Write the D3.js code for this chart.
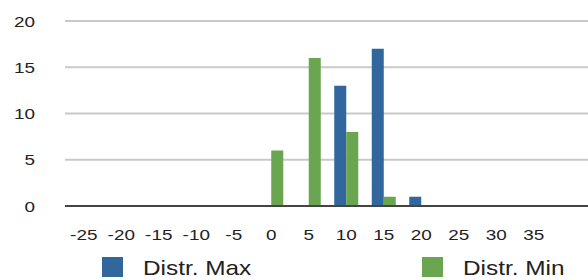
<!DOCTYPE html>
<html>
<head>
  <meta charset="utf-8">
  <style>
  body { margin: 0; background: #fff; }
  text { font-family: "Liberation Sans", Arial, Helvetica, sans-serif; fill: #222; }
  .grid line { stroke: #c9c9c9; stroke-width: 2px; }
  </style>
</head>
<body>
<svg width="588" height="280"></svg>
<script src="https://cdn.jsdelivr.net/npm/d3@7"></script>
<script>

// categories on the x axis
var categories = ["-25", "-20", "-15", "-10", "-5", "0", "5", "10", "15", "20", "25", "30", "35"];
var seriesNames = ["Distr. Max", "Distr. Min"];
var distrMax = [0, 0, 0, 0, 0, 0, 0, 13, 17, 1, 0, 0, 0];
var distrMin = [0, 0, 0, 0, 0, 6, 16, 8, 1, 0, 0, 0, 0];
var yTicks = [0, 5, 10, 15, 20];
var colors = ["#31679d", "#6aa550"];

var svg = d3.select("svg"),
    width = +svg.attr("width"),
    height = +svg.attr("height");

var left = 65, right = 588, step = 37.5;

var x0 = d3.scaleBand()
    .domain(categories)
    .range([left, left + step * categories.length])
    .paddingInner(0.36)
    .paddingOuter(0.18);

var x1 = d3.scaleBand()
    .domain(seriesNames)
    .range([0, x0.bandwidth()]);

var y = d3.scaleLinear()
    .domain([0, 20])
    .range([206, 21]);

// gridlines
svg.append("g")
    .attr("class", "grid")
  .selectAll("line")
  .data(yTicks.filter(function(d) { return d > 0; }))
  .enter().append("line")
    .attr("x1", left)
    .attr("x2", right)
    .attr("y1", function(d) { return y(d); })
    .attr("y2", function(d) { return y(d); });

// y labels
svg.append("g")
  .selectAll("text")
  .data(yTicks)
  .enter().append("text")
    .attr("text-anchor", "end")
    .attr("transform", function(d) { return "translate(35," + (y(d) + 5.5) + ") scale(1.22,1)"; })
    .style("font-size", "15.5px")
    .text(function(d) { return d; });

var rows = categories.map(function(c, i) {
  return { cat: c, values: [distrMax[i], distrMin[i]] };
});

var groups = svg.append("g")
  .selectAll("g")
  .data(rows)
  .enter().append("g")
    .attr("transform", function(d) { return "translate(" + x0(d.cat) + ",0)"; });

groups.selectAll("rect")
  .data(function(d) {
    return d.values.map(function(v, i) { return { key: seriesNames[i], value: v, i: i }; });
  })
  .enter().append("rect")
    .filter(function(d) { return d.value > 0; })
    .attr("x", function(d) { return x1(d.key); })
    .attr("width", x1.bandwidth())
    .attr("y", function(d) { return y(d.value); })
    .attr("height", function(d) { return y(0) - y(d.value); })
    .attr("fill", function(d) { return colors[d.i]; });

// zero line
svg.append("line")
    .attr("x1", left)
    .attr("x2", right)
    .attr("y1", y(0))
    .attr("y2", y(0))
    .attr("stroke", "#444")
    .attr("stroke-width", 2);

// x labels
svg.append("g")
  .selectAll("text")
  .data(categories)
  .enter().append("text")
    .attr("text-anchor", "middle")
    .attr("transform", function(d) { return "translate(" + (x0(d) + x0.bandwidth() / 2) + ",240) scale(1.22,1)"; })
    .style("font-size", "15.5px")
    .text(function(d) { return d; });

// legend
var legendX = [102, 422];
var legend = svg.append("g")
  .selectAll("g")
  .data(seriesNames)
  .enter().append("g")
    .attr("transform", function(d, i) { return "translate(" + legendX[i] + ",257)"; });

legend.append("rect")
    .attr("width", 21)
    .attr("height", 20)
    .attr("fill", function(d, i) { return colors[i]; });

legend.append("text")
    .attr("transform", "translate(41,18) scale(1.16,1)")
    .style("font-size", "21px")
    .text(function(d) { return d; });

</script>
</body>
</html>
